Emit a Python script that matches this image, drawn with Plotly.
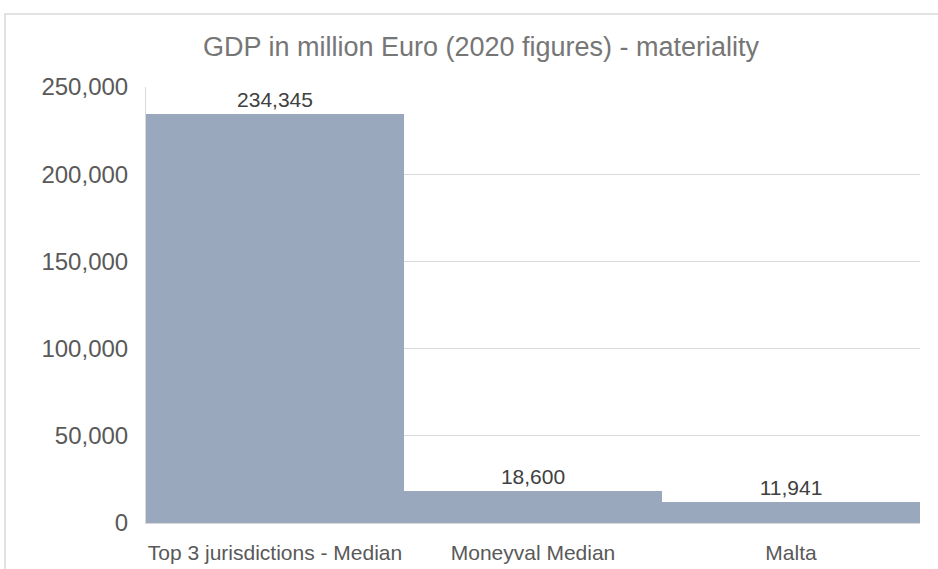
import plotly.graph_objects as go

categories = ["Top 3 jurisdictions - Median", "Moneyval Median", "Malta"]
values = [234345, 18600, 11941]
tick_vals = [0, 50000, 100000, 150000, 200000, 250000]
tick_text = ["0", "50,000", "100,000", "150,000", "200,000", "250,000"]
labels = [f"{v:,}" for v in values]

FONT = "Arial, 'Liberation Sans', sans-serif"

fig = go.Figure(go.Bar(
    x=categories, y=values,
    marker=dict(color="#9AA8BE", line=dict(width=0)),
    text=labels, textposition="outside", cliponaxis=False,
    textfont=dict(family=FONT, size=21, color="#404040"),
))

W, H = 938, 569
L, R, T, B = 146, 18, 87, 46
pw, ph = W - L - R, H - T - B

fig.update_layout(
    width=W, height=H,
    margin=dict(l=L, r=R, t=T, b=B),
    paper_bgcolor="white", plot_bgcolor="white",
    bargap=0,
    showlegend=False,
    title=dict(text="GDP in million Euro (2020 figures) - materiality",
               x=481 / W, xref="container", xanchor="center",
               y=1 - 47 / H, yref="container", yanchor="middle",
               font=dict(family=FONT, size=27, color="#767676")),
    xaxis=dict(showgrid=False, showline=True, linecolor="#D9D9D9", linewidth=1,
               ticks="outside", ticklen=11, tickcolor="rgba(0,0,0,0)",
               automargin=False,
               tickfont=dict(family=FONT, size=21, color="#595959")),
    yaxis=dict(range=[0, 250000], tickvals=tick_vals, ticktext=tick_text,
               showgrid=True, gridcolor="#D9D9D9", gridwidth=1,
               showline=True, linecolor="#D9D9D9", linewidth=1,
               ticks="outside", ticklen=12, tickcolor="rgba(0,0,0,0)",
               zeroline=False, automargin=False,
               tickfont=dict(family=FONT, size=24, color="#595959")),
    shapes=[dict(type="rect", xref="paper", yref="paper",
                 x0=(5 - L) / pw, x1=(W + 10 - L) / pw,
                 y0=-(H + 10 - (H - B)) / ph, y1=(H - B - 14) / ph,
                 line=dict(color="#D9D9D9", width=1.5), fillcolor="rgba(0,0,0,0)",
                 layer="below")],
)

fig.write_html("out.html")
